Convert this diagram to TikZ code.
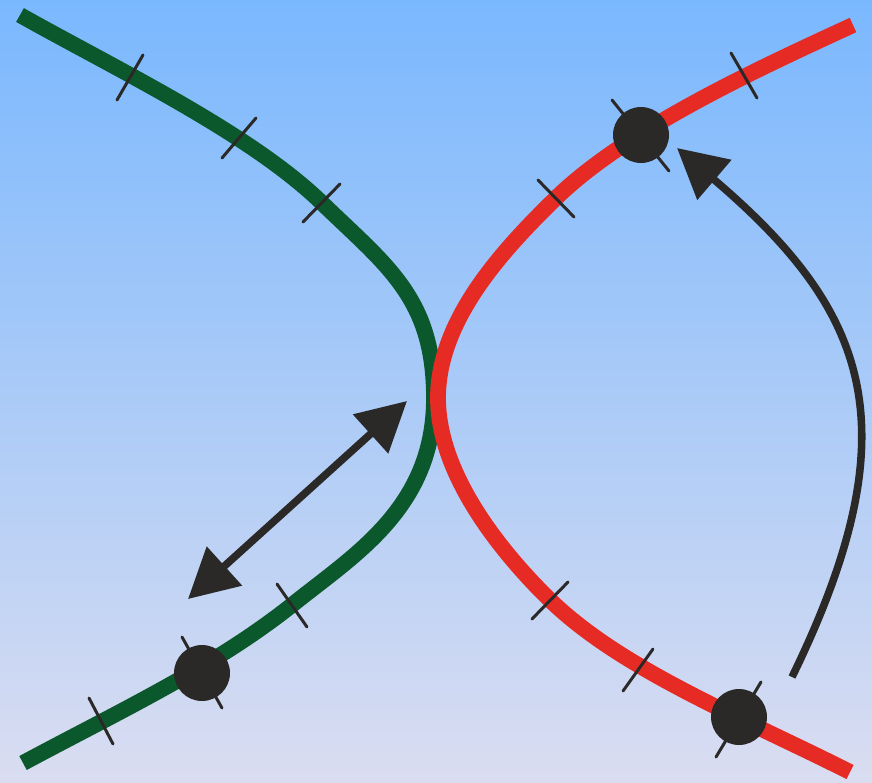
\documentclass[tikz,border=0pt]{standalone}
\usetikzlibrary{arrows.meta}
\definecolor{skytop}{RGB}{122,184,254}
\definecolor{skybot}{RGB}{218,221,241}
\definecolor{leaf}{RGB}{12,88,45}
\definecolor{brick}{RGB}{229,43,36}
\definecolor{ink}{RGB}{43,41,40}

\begin{document}
\begin{tikzpicture}[x=0.02cm,y=-0.02cm,
  >={Triangle[length=28pt,width=29pt]},
  branch/.style={line width=9pt},
  hatch/.style={draw=ink,line width=1.7pt,line cap=round},
  dot/.style={circle,fill=ink,inner sep=0pt,minimum size=1.12cm},
  arr/.style={draw=ink,line width=4.3pt}]
\useasboundingbox (0,0) rectangle (872,782);
\shade[top color=skytop,bottom color=skybot] (0,0) rectangle (872,782);
\draw[branch,leaf] (20,15) .. controls (116,69) and (250,133) .. (322,203)
  .. controls (387,266) and (434,298) .. (434,398)
  .. controls (434,508) and (354,555) .. (292,605)
  .. controls (214,667) and (120,711) .. (23,763);
\draw[branch,brick] (853,25) .. controls (762,67) and (628,128) .. (556,198)
  .. controls (506,247) and (438,318) .. (438,398)
  .. controls (438,478) and (507,558) .. (550,600)
  .. controls (622,670) and (743,718) .. (850,772);
\foreach \a/\b in {{117,100}/{143,55},{222,158}/{256,118},{303,222}/{340,184},{277,584}/{307,627},{89,698}/{113,744},{182,637}/{222,708},
  {731,53}/{757,98},{538,180}/{574,217},{612,100}/{669,171},{532,619}/{568,582},{623,691}/{653,649},{761,682}/{716,757}}
  \draw[hatch] (\a) -- (\b);
\node[dot] (gdot) at (202,673) {};
\node[dot] (rdottop) at (641,135) {};
\node[dot] (rdotbot) at (739,717) {};
\coordinate (pairA) at (188,599);
\coordinate (pairB) at (407,401);
\coordinate (hopA) at (792,677);
\coordinate (hopB) at (677,148);
\draw[arr,<->] (pairA) -- (pairB);
\draw[arr,->] (hopA) .. controls (915,425) and (867,310) .. (hopB);
\end{tikzpicture}
\end{document}
